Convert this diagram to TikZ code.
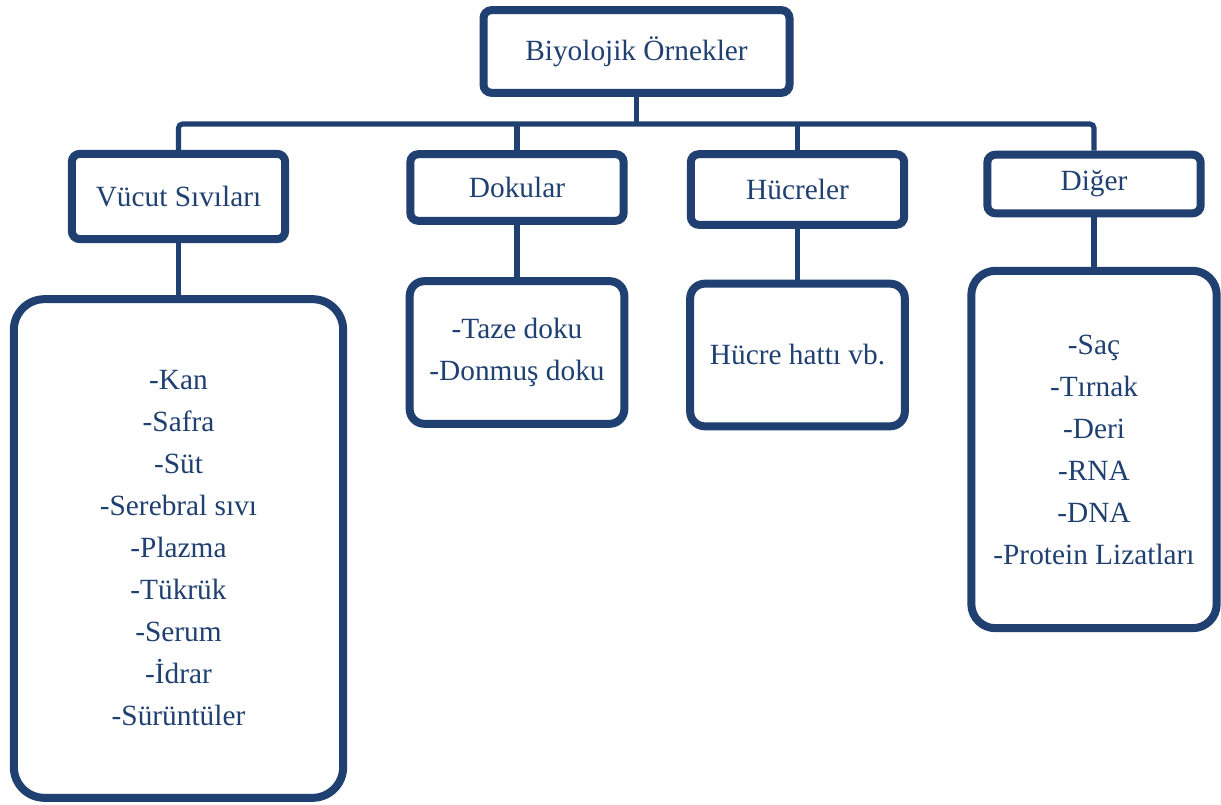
\documentclass[tikz,border=0pt]{standalone}
\usepackage{fontspec}
\setmainfont{Liberation Serif}
\usetikzlibrary{positioning, shadows}

\definecolor{boxblue}{RGB}{31,64,112}

\tikzset{
  box/.style={draw=boxblue, line width=6pt, fill=white, text=boxblue,
    rounded corners=6pt, align=center, inner sep=0pt,
    font=\fontsize{22pt}{31.5pt}\selectfont,
    drop shadow={opacity=0.18, shadow xshift=2pt, shadow yshift=-2pt}},
  link/.style={draw=boxblue, line width=3.8pt}
}

\begin{document}
\begin{tikzpicture}[x=0.75pt, y=-0.75pt]
  \useasboundingbox (0,0) rectangle (1221,805);

  % top level
  \node[box, minimum width=229.5pt, minimum height=62pt] (root) at (636.5,51.5) {Biyolojik Örnekler};

  % groups
  \node[box, minimum width=160pt, minimum height=64pt] (vucut) at (178.5,196.5) {Vücut Sıvıları};
  \node[box, minimum width=160pt, minimum height=50pt] (dokular) at (517,187.5) {Dokular};
  \node[box, minimum width=160pt, minimum height=53pt] (hucreler) at (797.5,189.5) {Hücreler};
  \node[box, minimum width=160pt, minimum height=44pt] (diger) at (1094,184) {Diğer};

  % lists
  \node[box, rounded corners=23pt, minimum width=247pt, minimum height=374pt] (vliste) at (178.5,548.5)
    {-Kan\\-Safra\\-Süt\\-Serebral sıvı\\-Plazma\\-Tükrük\\-Serum\\-İdrar\\-Sürüntüler};
  \node[box, rounded corners=11pt, minimum width=161pt, minimum height=107pt] (dliste) at (517,352.5)
    {-Taze doku\\-Donmuş doku};
  \node[box, rounded corners=11pt, minimum width=161pt, minimum height=107pt] (hliste) at (797.5,355)
    {Hücre hattı vb.};
  \node[box, rounded corners=18pt, minimum width=184pt, minimum height=268pt] (gliste) at (1094,449.5)
    {-Saç\\-Tırnak\\-Deri\\-RNA\\-DNA\\-Protein Lizatları};

  % connectors
  \coordinate (bus) at (636.5,124);
  \draw[link] (root.south) -- (bus);
  \draw[link, rounded corners=3pt] (vucut.north) |- (bus) -| (diger.north);
  \draw[link] (dokular.north) -- (dokular.north |- bus);
  \draw[link] (hucreler.north) -- (hucreler.north |- bus);

  \draw[link] (vucut.south) -- (vliste.north);
  \draw[link] (dokular.south) -- (dliste.north);
  \draw[link] (hucreler.south) -- (hliste.north);
  \draw[link] (diger.south) -- (gliste.north);
\end{tikzpicture}
\end{document}
